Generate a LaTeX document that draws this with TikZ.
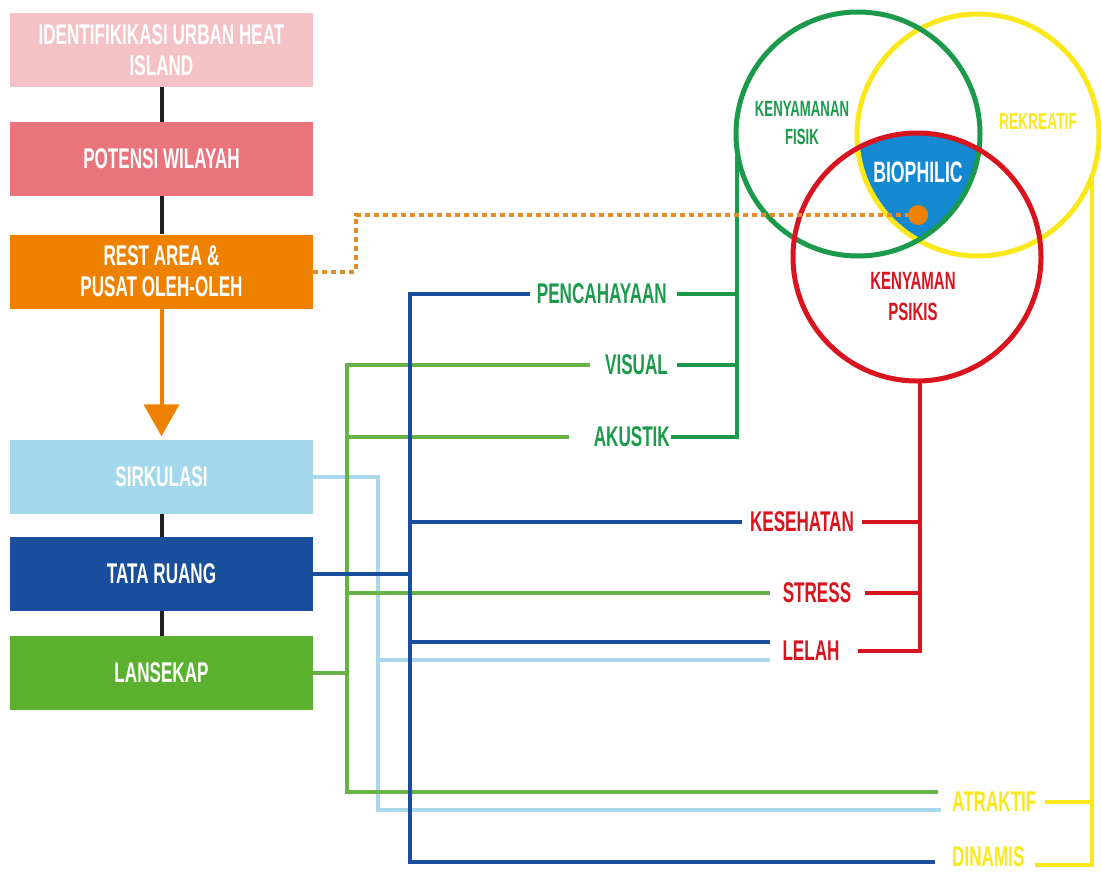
\documentclass[tikz,border=0pt]{standalone}
\usepackage{fontspec}
\newfontfamily\cond{Liberation Sans}[FakeStretch=0.6]
\usetikzlibrary{arrows.meta}
\definecolor{cPinkA}{HTML}{F4C1C5}
\definecolor{cPinkB}{HTML}{E9747B}
\definecolor{cOrange}{HTML}{EE8200}
\definecolor{cDots}{HTML}{E38B24}
\definecolor{cLBlue}{HTML}{A3D8EC}
\definecolor{cLBlueL}{HTML}{A8D8EA}
\definecolor{cDBlue}{HTML}{184E9C}
\definecolor{cGreen}{HTML}{5BB030}
\definecolor{cLGreen}{HTML}{66B245}
\definecolor{cDGreen}{HTML}{1B9A4B}
\definecolor{cRed}{HTML}{D8141F}
\definecolor{cYellow}{HTML}{FAE81A}
\definecolor{cBio}{HTML}{1488D1}
\definecolor{cBlack}{HTML}{231F20}
\begin{document}
\begin{tikzpicture}[x=1pt,y=-1pt,
  box/.style={minimum width=303pt,minimum height=74pt,inner sep=0pt,text=white,align=center,
    font=\cond\bfseries\fontsize{28.5}{31}\selectfont},
  lab/.style={inner sep=0pt,font=\cond\bfseries\fontsize{28.5}{31}\selectfont},
  ln/.style={line width=4pt},
  ring/.style={circle,line width=5pt,inner sep=0pt}]
\useasboundingbox (0,0) rectangle (1101,873);
\fill[white] (0,0) rectangle (1101,873);

% left boxes
\node[box,fill=cPinkA] (uhi) at (161.5,50) {IDENTIFIKIKASI URBAN HEAT\\ISLAND};
\node[box,fill=cPinkB] (pot) at (161.5,159) {POTENSI WILAYAH};
\node[box,fill=cOrange] (rest) at (161.5,271.5) {REST AREA \&\\PUSAT OLEH-OLEH};
\node[box,fill=cLBlue] (sir) at (161.5,476.5) {SIRKULASI};
\node[box,fill=cDBlue] (tat) at (161.5,574) {TATA RUANG};
\node[box,fill=cGreen] (lan) at (161.5,673) {LANSEKAP};

\draw[ln,cBlack] (uhi.south) -- (pot.north);
\draw[ln,cBlack] (pot.south) -- (rest.north);
\draw[ln,cBlack] (sir.south) -- (tat.north);
\draw[ln,cBlack] (tat.south) -- (lan.north);
\draw[ln,cOrange,-{Triangle[length=32pt,width=35pt]}] (rest.south) -- ([yshift=3pt]sir.north);

% circles
\begin{scope}
  \clip (858,134) circle[radius=122];
  \clip (978,135) circle[radius=121];
  \fill[cBio] (917,257) circle[radius=124];
\end{scope}
\node[ring,draw=cYellow,minimum size=242pt] (cy) at (978,135) {};
\node[ring,draw=cDGreen,minimum size=244pt] (cg) at (858,134) {};
\node[ring,draw=cRed,minimum size=248pt] (cr) at (917,257) {};

\node[lab,text=cDGreen,align=center,font=\cond\bfseries\fontsize{22}{28}\selectfont] (kf) at (802,123) {KENYAMANAN\\FISIK};
\node[lab,text=cYellow,font=\cond\bfseries\fontsize{23}{28}\selectfont] (rek) at (1038,122) {REKREATIF};
\node[lab,text=white,font=\cond\bfseries\fontsize{29.5}{32}\selectfont] (bio) at (918,172) {BIOPHILIC};
\node[lab,text=cRed,align=center,font=\cond\bfseries\fontsize{25}{31}\selectfont] (kp) at (913,297) {KENYAMAN\\PSIKIS};
\node[circle,fill=cOrange,minimum size=20pt,inner sep=0pt] (dot) at (918,215) {};

% side labels
\node[lab,text=cDGreen,anchor=east] (pen) at (667,294) {PENCAHAYAAN};
\node[lab,text=cDGreen,anchor=east] (vis) at (668,365) {VISUAL};
\node[lab,text=cDGreen,anchor=east] (aku) at (670,437) {AKUSTIK};
\node[lab,text=cRed] (kes) at (802,522) {KESEHATAN};
\node[lab,text=cRed] (str) at (817,593) {STRESS};
\node[lab,text=cRed] (lel) at (811,651) {LELAH};
\node[lab,text=cYellow,anchor=west] (atr) at (952,802) {ATRAKTIF};
\node[lab,text=cYellow,anchor=west] (din) at (952,857) {DINAMIS};

% helper coordinates
\coordinate (gtop) at (737,156);
\coordinate (bx) at (410,0);
\coordinate (gx) at (347,0);
\coordinate (lbx) at (378,0);
\coordinate (rx) at (920,380);
\coordinate (yx) at (1092,176);
\coordinate (lelB) at ([xshift=-12pt,yshift=9pt]lel.west);
\coordinate (lelL) at ([xshift=-12pt,yshift=-9pt]lel.west);
\coordinate (atrG) at ([xshift=-14pt,yshift=10pt]atr.west);
\coordinate (atrB) at ([xshift=-11pt,yshift=-8pt]atr.west);
\coordinate (dinB) at ([xshift=-17pt,yshift=-5pt]din.west);
\coordinate (dinY) at ([xshift=10pt,yshift=-8pt]din.east);

% light blue (sirkulasi)
\draw[ln,cLBlueL] (sir.east) -| (lbx |- atrB) -- (atrB);
\draw[ln,cLBlueL] (lelL -| lbx) -- (lelL);

% light green (lansekap)
\draw[ln,cLGreen] ([xshift=-15pt]vis.west) -| (gx |- atrG) -- (atrG);
\draw[ln,cLGreen] ([xshift=-25pt]aku.west) -- (aku.west -| gx);
\draw[ln,cLGreen] ([xshift=-13pt]str.west) -- (str.west -| gx);
\draw[ln,cLGreen] (lan.east) -- (lan.east -| gx);

% dark blue (tata ruang)
\draw[ln,cDBlue] ([xshift=-7pt]pen.west) -| (bx |- dinB) -- (dinB);
\draw[ln,cDBlue] (tat.east) -- (tat.east -| bx);
\draw[ln,cDBlue] (kes.west -| bx) -- ([xshift=-8pt]kes.west);
\draw[ln,cDBlue] (lelB -| bx) -- (lelB);

% dark green bracket
\draw[ln,cDGreen] (gtop) |- ([xshift=1pt]aku.east);
\draw[ln,cDGreen] ([xshift=10pt]pen.east) -- (pen.east -| gtop);
\draw[ln,cDGreen] ([xshift=9pt]vis.east) -- (vis.east -| gtop);

% red bracket
\draw[ln,cRed] (rx) |- ([xshift=18pt]lel.east);
\draw[ln,cRed] ([xshift=8pt]kes.east) -- (kes.east -| rx);
\draw[ln,cRed] ([xshift=14pt]str.east) -- (str.east -| rx);

% yellow bracket
\draw[ln,cYellow] (yx) |- (dinY);
\draw[ln,cYellow] ([xshift=8pt]atr.east) -- (atr.east -| yx);

% dotted orange
\coordinate (dk) at (356,215);
\draw[ln,cDots,dash pattern=on 5pt off 4pt] (rest.east) -| (dk) -- (dot.west);
\end{tikzpicture}
\end{document}
